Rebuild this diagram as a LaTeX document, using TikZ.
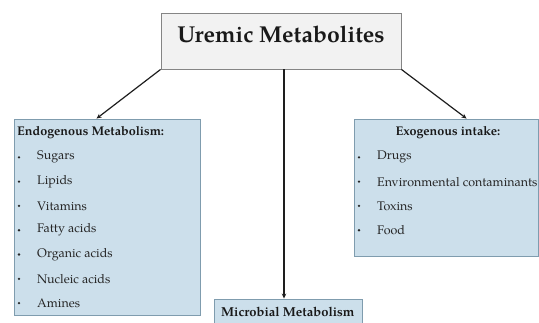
\documentclass[tikz,border=0pt]{standalone}
\usepackage{fontspec}
\setmainfont{TeX Gyre Pagella}
\usetikzlibrary{arrows.meta,calc}
\definecolor{boxblue}{HTML}{CCDFEB}
\definecolor{boxedge}{HTML}{7F9CAE}
\definecolor{topfill}{HTML}{F2F2F2}
\definecolor{topedge}{HTML}{858585}
\definecolor{inkline}{HTML}{1E1E1E}
\tikzset{
  topbox/.style={draw=topedge, fill=topfill, line width=0.9pt, inner sep=0pt, minimum width=240pt, minimum height=56pt},
  bluebox/.style={draw=boxedge, fill=boxblue, line width=0.9pt, inner sep=0pt},
  item/.style={anchor=west, inner sep=0pt, font=\fontsize{12.5}{14}\selectfont, text=black!85},
  dot/.style={circle, fill=black!85, inner sep=0pt, minimum size=2.6pt},
  head/.style={inner sep=0pt, font=\fontsize{12.6}{14}\selectfont\bfseries, text=black!90},
  conn/.style={draw=inkline, line width=1.2pt, -{Stealth[length=5pt,width=4.5pt]}}
}
\begin{document}
\begin{tikzpicture}[x=1pt,y=-1pt]
\useasboundingbox (0,0) rectangle (539,322);
% boxes
\node[topbox] (top) at (281,41) {};
\node[inner sep=0pt, font=\fontsize{23}{26}\selectfont\bfseries, text=black!90] (title) at (281,34) {Uremic Metabolites};
\node[bluebox, minimum width=186pt, minimum height=196pt] (endo) at (107,217) {};
\node[bluebox, minimum width=184pt, minimum height=137pt] (exo) at (446,187.5) {};
\node[bluebox, minimum width=148pt, minimum height=40pt] (micro) at (288,319) {};
\coordinate (mid) at ([xshift=3pt]top.south);
% connectors
\draw[conn] (top.south west) -- ([xshift=83pt]endo.north west);
\draw[conn] (top.south east) -- ([xshift=113pt]exo.north west);
\draw[conn] (mid) -- (mid |- micro.north);
% endogenous text
\node[head, anchor=west] (endoh) at (17,133) {Endogenous Metabolism:};
\foreach \t [count=\i] in {Sugars,Lipids,Vitamins,Fatty acids,Organic acids,Nucleic acids,Amines}{
  \node[dot] (ed\i) at (19,{133+24.3*\i}) {};
  \node[item] (et\i) at (37,{133+24.3*\i}) {\t};
}
% exogenous text
\node[head] (exoh) at (448,133) {Exogenous intake:};
\foreach \t [count=\i] in {Drugs,Environmental contaminants,Toxins,Food}{
  \node[dot] (xd\i) at (359,{133+24.3*\i}) {};
  \node[item] (xt\i) at (377,{133+24.3*\i}) {\t};
}
% microbial text
\node[inner sep=0pt, anchor=west, font=\fontsize{13}{15}\selectfont\bfseries, text=black!90] (microh) at (221,312) {Microbial Metabolism};
\end{tikzpicture}
\end{document}
